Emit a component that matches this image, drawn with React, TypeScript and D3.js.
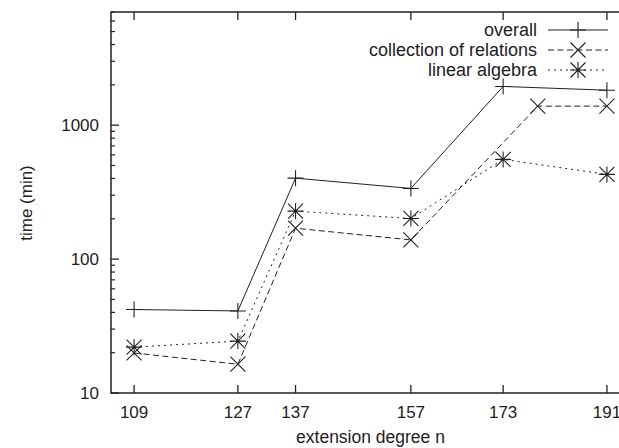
import React from 'react';
import * as d3 from 'd3';

// extension degrees shown on the x axis
const degrees = [109, 127, 137, 157, 173, 191];
const yTickValues = [10, 100, 1000];

// time in minutes
const overallX = [109, 127, 137, 157, 173, 191];
const overallY = [42, 41, 402, 337, 1946, 1824];
const relationsX = [109, 127, 137, 157, 179, 191];
const relationsY = [19.9, 16.4, 170, 139, 1387, 1387];
const algebraX = [109, 127, 137, 157, 173, 191];
const algebraY = [22, 24.4, 228, 201, 555, 429];

const W = 619;
const H = 448;
const left = 111;
const top = 12;
const bottom = 393;
const right = 630;
const ink = '#222';
const font = '"Liberation Sans", Arial, sans-serif';

type Marker = 'plus' | 'cross' | 'star';

function MarkerShape({ x, y, type }: { x: number; y: number; type: Marker }) {
  const s = 8;
  const d = 7.5;
  const parts: string[] = [];
  if (type === 'plus' || type === 'star') parts.push(`M${x - s},${y}H${x + s}M${x},${y - s}V${y + s}`);
  if (type === 'cross' || type === 'star') parts.push(`M${x - d},${y - d}L${x + d},${y + d}M${x - d},${y + d}L${x + d},${y - d}`);
  return <path d={parts.join('')} stroke={ink} strokeWidth={1.1} fill="none" />;
}

export default function App() {
  const xScale = d3.scaleLinear().domain([105, 195]).range([left, right]);
  const yScale = d3.scaleLog().domain([10, 7000]).range([bottom, top]);

  const series = [
    { name: 'overall', xs: overallX, ys: overallY, marker: 'plus' as Marker, dash: undefined },
    { name: 'collection of relations', xs: relationsX, ys: relationsY, marker: 'cross' as Marker, dash: '6,3.5' },
    { name: 'linear algebra', xs: algebraX, ys: algebraY, marker: 'star' as Marker, dash: '2,4' },
  ];

  const line = d3
    .line<[number, number]>()
    .x((d) => xScale(d[0]))
    .y((d) => yScale(d[1]));

  // minor ticks 2..9 per decade
  const minors: number[] = [];
  for (let dec = 10; dec < 7000; dec *= 10) {
    for (let k = 2; k <= 9; k++) {
      const v = dec * k;
      if (v <= 7000) minors.push(v);
    }
  }

  return (
    <svg
      width={W}
      height={H}
      style={{ position: 'absolute', left: 0, top: 0, background: '#fff' }}
      fontFamily={font}
    >
      <rect x={0} y={0} width={W} height={H} fill="#fff" />

      {/* frame */}
      <path
        d={`M${left},${top}H${right}V${bottom}H${left}Z`}
        fill="none"
        stroke={ink}
        strokeWidth={1.5}
      />

      {/* y ticks */}
      {yTickValues.map((v) => (
        <g key={`y${v}`}>
          <line x1={left} x2={left + 8} y1={yScale(v)} y2={yScale(v)} stroke={ink} strokeWidth={1.3} />
          <text x={99} y={yScale(v) + 6} textAnchor="end" fontSize={17} fill={ink}>
            {v}
          </text>
        </g>
      ))}
      {minors.map((v) => (
        <line key={`m${v}`} x1={left} x2={left + 4} y1={yScale(v)} y2={yScale(v)} stroke={ink} strokeWidth={1.2} />
      ))}

      {/* x ticks, bottom and top */}
      {degrees.map((v) => (
        <g key={`x${v}`}>
          <line x1={xScale(v)} x2={xScale(v)} y1={bottom} y2={bottom - 8} stroke={ink} strokeWidth={1.3} />
          <line x1={xScale(v)} x2={xScale(v)} y1={top} y2={top + 8} stroke={ink} strokeWidth={1.3} />
          <text x={xScale(v)} y={418} textAnchor="middle" fontSize={17} fill={ink}>
            {v}
          </text>
        </g>
      ))}

      {/* axis titles */}
      <text x={(left + right) / 2} y={443} textAnchor="middle" fontSize={17.5} fill={ink}>
        extension degree n
      </text>
      <text transform="translate(32,203) rotate(-90)" textAnchor="middle" fontSize={17} fill={ink}>
        time (min)
      </text>

      {/* series */}
      {series.map((s) => {
        const pts = s.xs.map((x, i) => [x, s.ys[i]] as [number, number]);
        return (
          <g key={s.name}>
            <path d={line(pts) || ''} fill="none" stroke={ink} strokeWidth={1} strokeDasharray={s.dash} />
            {pts.map((p, i) => (
              <MarkerShape key={i} x={xScale(p[0])} y={yScale(p[1])} type={s.marker} />
            ))}
          </g>
        );
      })}

      {/* legend */}
      {series.map((s, i) => {
        const ly = 30 + i * 20;
        return (
          <g key={`lg${s.name}`}>
            <text x={537} y={ly + 6} textAnchor="end" fontSize={18} fill={ink}>
              {s.name}
            </text>
            <line x1={548} x2={608} y1={ly} y2={ly} stroke={ink} strokeWidth={1} strokeDasharray={s.dash} />
            <MarkerShape x={578} y={ly} type={s.marker} />
          </g>
        );
      })}
    </svg>
  );
}
